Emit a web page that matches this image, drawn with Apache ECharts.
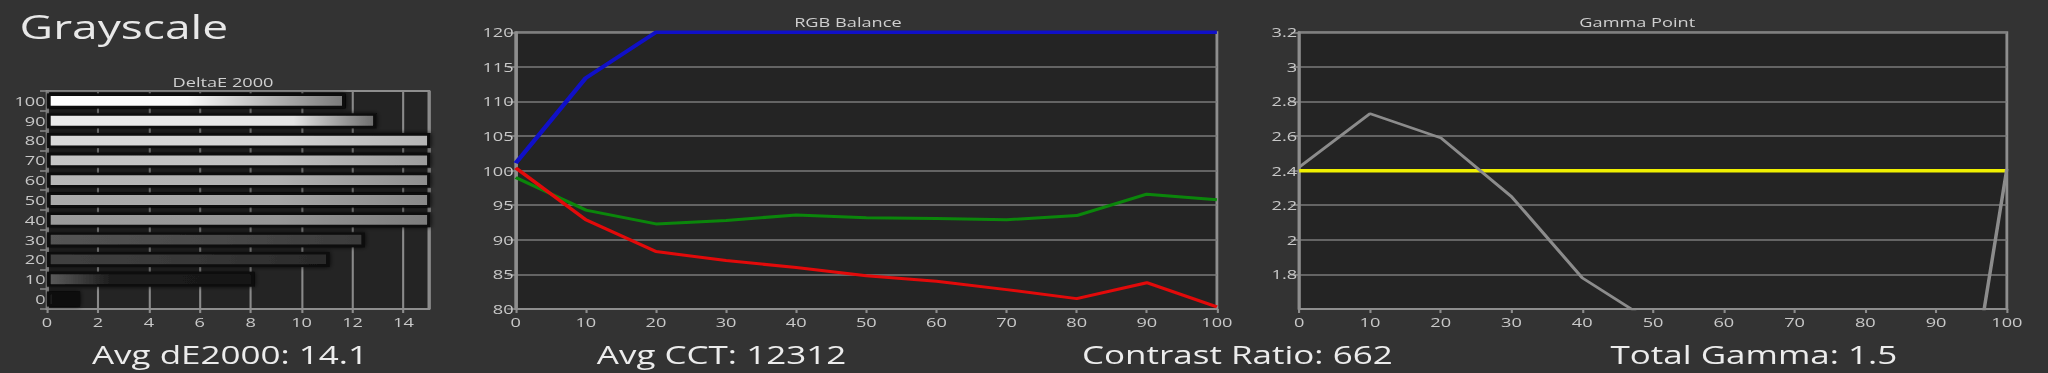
<!DOCTYPE html>
<html><head><meta charset="utf-8">
<script src="https://cdn.jsdelivr.net/npm/echarts@6/dist/echarts.min.js"></script>
<style>
html,body{margin:0;padding:0;background:#333333;overflow:hidden;width:2048px;height:373px;}
#chart{width:1463px;height:373px;transform:scaleX(1.39986);transform-origin:0 0;}
</style></head><body><div id="chart"></div>
<script>
// ---- data ----
const deCategories = ['0','10','20','30','40','50','60','70','80','90','100'];
const deValues = [1.30, 8.15, 11.11, 12.49, 18.5, 20.5, 21.0, 20.0, 17.5, 12.95, 11.73];
const deTicks = [0, 2, 4, 6, 8, 10, 12, 14];

const stimulus = [0, 10, 20, 30, 40, 50, 60, 70, 80, 90, 100];
const redValues = [100.4, 92.9, 88.3, 87.0, 86.0, 84.8, 84.0, 82.8, 81.5, 83.8, 80.3];
const greenValues = [99.0, 94.3, 92.3, 92.8, 93.6, 93.2, 93.1, 92.9, 93.5, 96.6, 95.8];
const blueValues = [101.1, 113.4, 120, 120, 120, 120, 120, 120, 120, 120, 120];
const rgbTicks = [80, 85, 90, 95, 100, 105, 110, 115, 120];

const gammaValues = [2.42, 2.73, 2.59, 2.25, 1.78, 1.52, 1.30, 1.00, 0.60, -0.12, 2.41];
const gammaTarget = [2.4, 2.4, 2.4, 2.4, 2.4, 2.4, 2.4, 2.4, 2.4, 2.4, 2.4];
const gammaTicks = [1.6, 1.8, 2.0, 2.2, 2.4, 2.6, 2.8, 3.0, 3.2];

const pageTitle = 'Grayscale';
const chartTitles = ['DeltaE 2000', 'RGB Balance', 'Gamma Point'];
const summaries = ['Avg dE2000: 14.1', 'Avg CCT: 12312', 'Contrast Ratio: 662', 'Total Gamma: 1.5'];

// ---- styles ----
const FONT = '"Open Sans", "Noto Sans", sans-serif';
const LABEL = '#c8c8c8';
const AXIS = '#8e8e8e';
const GRIDLINE = '#7a7a7a';
// gradient shades for each grayscale bar (left, middle, right, middle offset)
const barShades = [
  ['#3a3a3a', '#101010', '#0c0c0c', 0.12],
  ['#5c5c5c', '#1e1e1e', '#161616', 0.3],
  ['#414141', '#383838', '#2a2a2a', 0.5],
  ['#545454', '#4a4a4a', '#3a3a3a', 0.5],
  ['#9c9c9c', '#979797', '#7c7c7c', 0.6],
  ['#ababab', '#a6a6a6', '#888888', 0.6],
  ['#b8b8b8', '#b1b1b1', '#8e8e8e', 0.6],
  ['#c6c6c6', '#c0c0c0', '#9c9c9c', 0.6],
  ['#dadada', '#d3d3d3', '#b4b4b4', 0.6],
  ['#ebebeb', '#e4e4e4', '#6c6c6c', 0.75],
  ['#ffffff', '#f8f8f8', '#7a7a7a', 0.47]
];

const pairs = (ys) => stimulus.map((x, i) => [x, ys[i]]);

const chart = echarts.init(document.getElementById('chart'), null, {renderer: 'svg'});

const grids = [
  {left: 33.6, top: 91, width: 272.8, height: 218},
  {left: 368.4, top: 32.3, width: 500.9, height: 276.7},
  {left: 928.1, top: 32.3, width: 505.5, height: 276.7}
].map(g => Object.assign(g, {show: true, backgroundColor: '#242424', borderColor: AXIS, borderWidth: 2, containLabel: false}));

const axisLabel = (extra) => Object.assign({color: LABEL, fontSize: 13, fontFamily: FONT}, extra || {});
const axisLine = {show: true, lineStyle: {color: AXIS, width: 2}};
const tick = (len) => ({show: true, length: len, lineStyle: {color: AXIS, width: 1.5}});
const split = {show: true, lineStyle: {color: GRIDLINE, width: 1.5}};

const option = {
  backgroundColor: '#333333',
  animation: false,
  grid: grids,
  xAxis: [
    {gridIndex: 0, type: 'value', min: deTicks[0], max: 15, interval: deTicks[1] - deTicks[0],
     axisLine, axisTick: tick(4), splitLine: {show: true, lineStyle: {color: '#8a8a8a', width: 1.5}},
     axisLabel: axisLabel({margin: 7, showMaxLabel: false})},
    {gridIndex: 1, type: 'value', min: stimulus[0], max: stimulus[stimulus.length - 1], interval: 10,
     axisLine, axisTick: tick(4), splitLine: {show: false}, axisLabel: axisLabel({margin: 7})},
    {gridIndex: 2, type: 'value', min: stimulus[0], max: stimulus[stimulus.length - 1], interval: 10,
     axisLine, axisTick: tick(4), splitLine: {show: false}, axisLabel: axisLabel({margin: 7})}
  ],
  yAxis: [
    {gridIndex: 0, type: 'category', data: deCategories, axisLine,
     axisTick: tick(5), splitLine: {show: false}, axisLabel: axisLabel({margin: 1})},
    {gridIndex: 1, type: 'value', min: rgbTicks[0], max: rgbTicks[rgbTicks.length - 1], interval: rgbTicks[1] - rgbTicks[0],
     axisLine, axisTick: tick(6), splitLine: split, axisLabel: axisLabel({margin: 1.5})},
    {gridIndex: 2, type: 'value', min: gammaTicks[0], max: gammaTicks[gammaTicks.length - 1], interval: 0.2,
     axisLine, axisTick: tick(6), splitLine: split,
     axisLabel: axisLabel({margin: 1.5, showMinLabel: false, formatter: v => String(Math.round(v * 10) / 10)})}
  ],
  series: [
    {type: 'bar', xAxisIndex: 0, yAxisIndex: 0, barWidth: 15, clip: true,
     data: deValues.map((v, i) => ({
       value: v,
       itemStyle: {
         borderColor: '#0a0a0a', borderWidth: 2.6,
         shadowColor: 'rgba(0,0,0,0.85)', shadowBlur: 4,
         color: new echarts.graphic.LinearGradient(0, 0, 1, 0, [
           {offset: 0, color: barShades[i][0]},
           {offset: barShades[i][3], color: barShades[i][1]},
           {offset: 1, color: barShades[i][2]}
         ])
       }
     }))},
    {type: 'line', xAxisIndex: 1, yAxisIndex: 1, data: pairs(greenValues), showSymbol: false, clip: true,
     lineStyle: {color: '#0b860b', width: 3}},
    {type: 'line', xAxisIndex: 1, yAxisIndex: 1, data: pairs(redValues), showSymbol: false, clip: true,
     lineStyle: {color: '#e20a0a', width: 3}},
    {type: 'line', xAxisIndex: 1, yAxisIndex: 1, data: pairs(blueValues), showSymbol: false, clip: false,
     lineStyle: {color: '#1010c8', width: 3.5}},
    {type: 'line', xAxisIndex: 2, yAxisIndex: 2, data: pairs(gammaTarget), showSymbol: false, clip: false,
     lineStyle: {color: '#f0f000', width: 3.5}},
    {type: 'line', xAxisIndex: 2, yAxisIndex: 2, data: pairs(gammaValues), showSymbol: false, clip: true,
     lineStyle: {color: '#8c8c8c', width: 2.5}}
  ],
  graphic: [
    {type: 'text', left: 14, top: 10, style: {text: pageTitle, fill: '#e8e8e8', font: '33px ' + FONT}},
    {type: 'text', x: 159.3, y: 82, style: {text: chartTitles[0], fill: '#cfcfcf', font: '13px ' + FONT, textAlign: 'center', textVerticalAlign: 'middle'}},
    {type: 'text', x: 605.7, y: 22, style: {text: chartTitles[1], fill: '#cfcfcf', font: '13px ' + FONT, textAlign: 'center', textVerticalAlign: 'middle'}},
    {type: 'text', x: 1169.6, y: 22, style: {text: chartTitles[2], fill: '#cfcfcf', font: '13px ' + FONT, textAlign: 'center', textVerticalAlign: 'middle'}},
    {type: 'text', x: 164.3, y: 354, style: {text: summaries[0], fill: '#ececec', font: '25px ' + FONT, textAlign: 'center', textVerticalAlign: 'middle'}},
    {type: 'text', x: 515.4, y: 354, style: {text: summaries[1], fill: '#ececec', font: '25px ' + FONT, textAlign: 'center', textVerticalAlign: 'middle'}},
    {type: 'text', x: 883.9, y: 354, style: {text: summaries[2], fill: '#ececec', font: '25px ' + FONT, textAlign: 'center', textVerticalAlign: 'middle'}},
    {type: 'text', x: 1252.9, y: 354, style: {text: summaries[3], fill: '#ececec', font: '25px ' + FONT, textAlign: 'center', textVerticalAlign: 'middle'}}
  ]
};
chart.setOption(option);
</script></body></html>
